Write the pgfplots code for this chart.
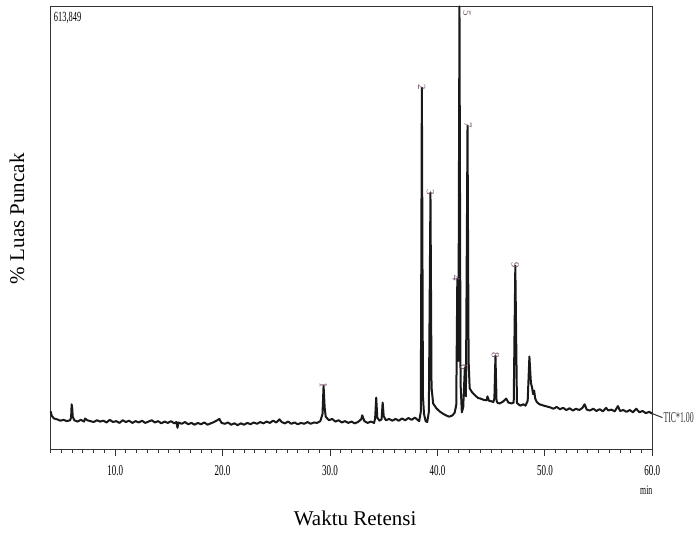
\documentclass[border=0pt]{standalone}
\usepackage{fontspec}
\setmainfont{Liberation Serif}
\newfontfamily\narrow[FakeStretch=0.6]{Liberation Serif}
\newfontfamily\ticfont[FakeStretch=0.52]{Liberation Serif}
\usepackage{pgfplots}
\pgfplotsset{compat=1.18}
\definecolor{peaklbl}{RGB}{120,80,110}

\begin{document}
\begin{tikzpicture}
\begin{axis}[
  name=ax,
  scale only axis,
  width=300.8pt, height=221.5pt,
  xmin=4, xmax=60, ymin=0, ymax=100,
  axis line style={line width=0.7pt, black!80},
  xtick={10,20,30,40,50,60},
  xticklabels={10.0,20.0,30.0,40.0,50.0,60.0},
  minor xtick={4,5,...,60},
  xtick pos=bottom, tick align=outside,
  major tick length=3.5pt, minor tick length=2pt,
  every tick/.style={black!80, line width=0.5pt},
  ytick=\empty,
  x tick label style={font=\narrow\fontsize{7.5}{8}\selectfont, yshift=-1pt},
  clip=false,
  xlabel={Waktu Retensi},
  xlabel style={at={(axis description cs:0.506,-0.156)}, anchor=center,
    font=\fontsize{10.5}{12}\selectfont},
  ylabel={\% Luas Puncak},
  ylabel style={at={(axis description cs:-0.056,0.521)}, anchor=center,
    font=\fontsize{10.5}{12}\selectfont},
]
\addplot[black!90, line width=1.0pt, line join=round] coordinates {
  (4.0,8.6) (4.1,7.6) (4.3,7.0) (4.6,6.8) (4.9,6.5) (5.2,6.7) (5.5,6.4)
  (5.8,6.6) (5.9,7.2) (5.95,10.2) (6.0,9.5) (6.05,7.4) (6.2,6.6) (6.5,6.3)
  (6.8,6.7) (7.1,6.3) (7.2,7.0) (7.4,6.6) (7.7,6.4) (8.0,6.2) (8.3,6.6)
  (8.6,6.3) (8.9,6.5) (9.2,6.1) (9.5,6.7) (9.8,6.2) (10.1,6.4) (10.4,6.0)
  (10.7,6.6) (11.0,6.2) (11.3,6.5) (11.6,6.0) (11.9,6.4) (12.2,6.1)
  (12.5,6.5) (12.8,6.0) (13.1,6.3) (13.4,6.6) (13.7,6.1) (14.0,6.4)
  (14.3,5.9) (14.6,6.3) (14.9,6.0) (15.2,6.4) (15.5,5.9) (15.7,6.2)
  (15.8,4.9) (15.9,6.1) (16.2,5.8) (16.5,6.2) (16.8,5.7) (17.1,6.0)
  (17.4,5.6) (17.7,6.0) (18.0,5.7) (18.3,6.1) (18.6,5.6) (18.9,5.9)
  (19.2,6.2) (19.5,6.6) (19.7,6.9) (19.9,6.0) (20.2,5.8) (20.5,6.1)
  (20.8,5.6) (21.1,5.9) (21.4,5.5) (21.7,5.9) (22.0,5.6) (22.3,6.0)
  (22.6,5.7) (22.9,6.1) (23.2,5.8) (23.5,6.2) (23.8,5.9) (24.1,6.3)
  (24.4,6.0) (24.7,6.5) (25.0,6.1) (25.3,6.8) (25.5,6.2) (25.8,5.9)
  (26.1,6.3) (26.4,5.8) (26.7,6.1) (27.0,5.7) (27.3,6.0) (27.6,5.8)
  (27.9,6.2) (28.2,5.8) (28.5,6.1) (28.8,6.0) (29.1,6.4) (29.3,8.0)
  (29.4,14.4) (29.5,9.5) (29.6,7.4) (29.9,6.6) (30.2,6.9) (30.5,6.3)
  (30.8,6.6) (31.1,6.1) (31.4,6.4) (31.7,6.0) (32.0,6.3) (32.3,5.9)
  (32.6,6.2) (32.9,6.8) (33.0,7.7) (33.2,6.4) (33.5,6.0) (33.8,6.3)
  (34.1,6.0) (34.2,7.0) (34.3,11.7) (34.4,7.2) (34.6,6.5) (34.8,6.8)
  (34.9,10.6) (35.0,7.5) (35.2,6.6) (35.5,6.9) (35.8,6.5) (36.1,6.9)
  (36.4,6.5) (36.7,7.0) (37.0,6.6) (37.3,7.1) (37.6,6.7) (37.9,7.2)
  (38.1,6.8) (38.3,6.4) (38.45,8.5) (38.55,81.7) (38.65,12.0) (38.75,8.0)
  (38.9,6.4) (39.05,6.2) (39.2,8.5) (39.35,58.0) (39.45,14.0) (39.6,10.4)
  (39.9,9.3) (40.2,8.6) (40.5,8.1) (40.8,7.7) (41.1,7.4) (41.4,7.7)
  (41.6,8.3) (41.75,10.0) (41.85,38.6) (41.95,20.0) (42.05,100) (42.15,15.0)
  (42.27,8.4) (42.4,9.5) (42.55,18.5) (42.65,12.0) (42.8,73.1) (42.9,20.0)
  (43.0,13.8) (43.2,13.0) (43.35,12.6) (43.6,12.0) (43.8,11.6) (44.0,11.5)
  (44.3,11.2) (44.6,11.1) (44.65,12.0) (44.8,11.0) (45.0,10.9) (45.2,10.7)
  (45.3,11.5) (45.4,21.2) (45.5,11.0) (45.6,10.5) (45.8,10.4) (46.1,10.8)
  (46.4,11.5) (46.6,10.6) (46.9,10.4) (47.1,10.6) (47.25,41.5) (47.4,10.5)
  (47.7,9.9) (48.0,10.2) (48.2,9.9) (48.4,11.0) (48.56,21.0) (48.7,15.0)
  (48.8,14.1) (48.9,12.5) (49.0,13.3) (49.1,11.5) (49.25,10.7) (49.5,10.2)
  (49.9,9.9) (50.2,9.7) (50.5,9.5) (50.8,9.2) (51.1,9.6) (51.4,9.1)
  (51.7,9.4) (52.0,8.9) (52.3,9.3) (52.6,8.8) (52.9,9.2) (53.2,8.9)
  (53.5,9.4) (53.7,10.2) (53.9,9.0) (54.2,8.8) (54.5,9.2) (54.8,8.7)
  (55.1,9.1) (55.4,8.6) (55.7,9.4) (55.9,8.8) (56.2,9.0) (56.5,8.6)
  (56.8,9.8) (57.0,8.7) (57.3,8.9) (57.6,8.5) (57.9,8.9) (58.2,8.4)
  (58.5,9.2) (58.8,8.4) (59.1,8.7) (59.4,8.2) (59.7,8.5) (60.0,8.1)
};
% peak numbers
\begin{scope}[every node/.style={font=\fontsize{5.5}{6}\selectfont, text=peaklbl,
    rotate=-90, anchor=west, inner sep=0.3pt}]
  \node at (axis cs:29.4,15.3) {1};
  \node at (axis cs:38.55,82.6) {2};
  \node at (axis cs:39.35,58.9) {3};
  \node at (axis cs:41.75,39.4) {4};
  \node at (axis cs:42.75,99.4) {5};
  \node at (axis cs:42.5,19.3) {6};
  \node at (axis cs:42.85,74.0) {7};
  \node at (axis cs:45.4,22.1) {8};
  \node at (axis cs:47.25,42.4) {9};
\end{scope}
\draw[black!80, line width=0.5pt] (axis cs:60,8.1) -- (axis cs:60.95,7.2)
  node[anchor=west, inner sep=0.3pt, font=\ticfont\fontsize{7.5}{8}\selectfont] {TIC*1.00};
\node[anchor=west, inner sep=0.5pt, font=\narrow\fontsize{7}{8}\selectfont]
  at (axis description cs:0.003,0.975) {613,849};
\node[font=\narrow\fontsize{6.5}{7}\selectfont]
  at (axis description cs:0.99,-0.093) {min};
\end{axis}
\pgfresetboundingbox
\path[use as bounding box] ([xshift=-25.35pt,yshift=-42pt]ax.south west)
  rectangle ([xshift=21.85pt,yshift=3.25pt]ax.north east);
\end{tikzpicture}
\end{document}
